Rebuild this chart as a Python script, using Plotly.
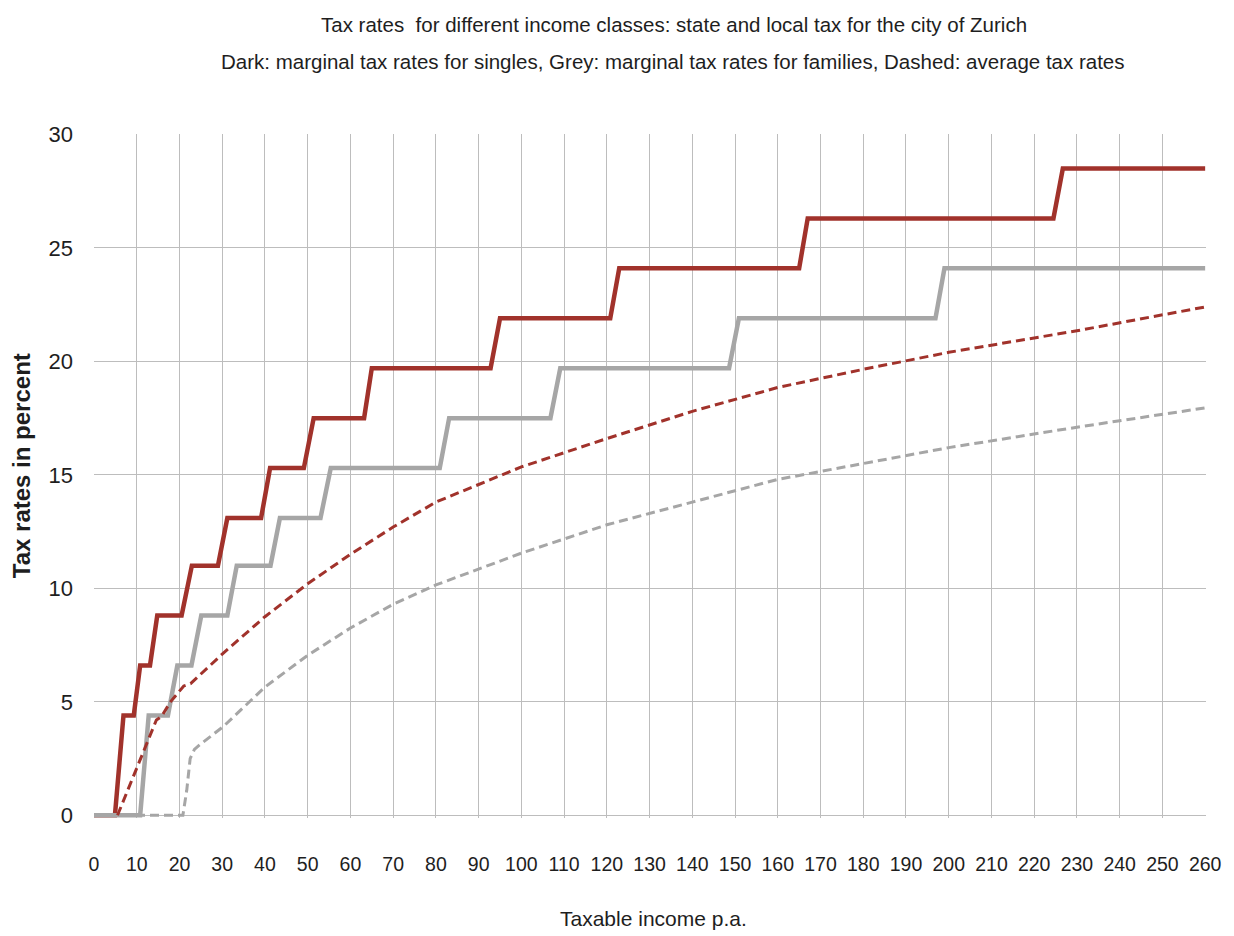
import plotly.graph_objects as go

# ---- data ----
single_marg_x = [0, 4.9, 6.9, 9.3, 10.8, 13.1, 14.8, 20.5, 22.9, 29.0, 31.2, 39.1, 41.2, 49.1, 51.4,
                 63.2, 65.0, 92.8, 95.0, 120.8, 122.9, 165.0, 167.0, 224.5, 226.7, 260]
single_marg_y = [0, 0, 4.4, 4.4, 6.6, 6.6, 8.8, 8.8, 11.0, 11.0, 13.1, 13.1, 15.3, 15.3, 17.5,
                 17.5, 19.7, 19.7, 21.9, 21.9, 24.1, 24.1, 26.3, 26.3, 28.5, 28.5]

family_marg_x = [0, 10.8, 12.8, 17.3, 19.5, 22.8, 25.1, 31.2, 33.4, 41.3, 43.5, 53.0, 55.4,
                 80.9, 83.1, 106.8, 109.1, 148.6, 150.9, 196.9, 199.0, 260]
family_marg_y = [0, 0, 4.4, 4.4, 6.6, 6.6, 8.8, 8.8, 11.0, 11.0, 13.1, 13.1, 15.3,
                 15.3, 17.5, 17.5, 19.7, 19.7, 21.9, 21.9, 24.1, 24.1]

single_avg_x = [5.5, 14.6, 15.8, 17.9, 21.0, 22.6, 30, 40, 50, 60, 70, 80, 100, 120, 140,
                160, 180, 200, 230, 260]
single_avg_y = [0, 4.2, 4.35, 5.0, 5.7, 5.8, 7.1, 8.75, 10.2, 11.5, 12.7, 13.8, 15.35, 16.6, 17.8,
                18.85, 19.65, 20.4, 21.35, 22.4]

family_avg_x = [0, 20.8, 21.7, 22.5, 23.5, 24.7, 30.2, 40, 50, 60, 70, 80, 100, 120, 140, 160,
                200, 230, 260]
family_avg_y = [0, 0, 1.1, 2.5, 2.9, 3.1, 3.9, 5.65, 7.05, 8.25, 9.3, 10.15, 11.55, 12.8, 13.8, 14.8,
                16.2, 17.1, 17.95]

x_ticks = list(range(0, 261, 10))
y_ticks = [0, 5, 10, 15, 20, 25, 30]

title_1 = "Tax rates  for different income classes: state and local tax for the city of Zurich"
title_2 = "Dark: marginal tax rates for singles, Grey: marginal tax rates for families, Dashed: average tax rates"
x_title = "Taxable income p.a."
y_title = "Tax rates in percent"

RED = "#A1322B"
GREY = "#A6A6A6"
REG = "Liberation Sans, Arial, sans-serif"
TXT = "#1E1E1E"

# page offset of the figure inside the HTML body (default 8px body margin)
OFF = 8
W, H = 1234 - OFF, 936 - OFF
L, T = 94 - OFF, 134 - OFF
R = W - (1209 - OFF)
B = H - (818 - OFF)

fig = go.Figure()
fig.add_trace(go.Scatter(x=single_marg_x, y=single_marg_y, mode="lines",
                         line=dict(color=RED, width=4.5), hoverinfo="skip"))
fig.add_trace(go.Scatter(x=family_marg_x, y=family_marg_y, mode="lines",
                         line=dict(color=GREY, width=4.5), hoverinfo="skip"))
fig.add_trace(go.Scatter(x=family_avg_x, y=family_avg_y, mode="lines",
                         line=dict(color=GREY, width=3, dash="9px,5px"), hoverinfo="skip"))
fig.add_trace(go.Scatter(x=single_avg_x, y=single_avg_y, mode="lines",
                         line=dict(color=RED, width=3, dash="9px,5px"), hoverinfo="skip"))

fig.update_layout(
    width=W, height=H,
    margin=dict(l=L, r=R, t=T, b=B, pad=0),
    paper_bgcolor="white", plot_bgcolor="white",
    showlegend=False,
    xaxis=dict(range=[0, 260.2], tickmode="array", tickvals=x_ticks,
               ticktext=[str(v) for v in x_ticks],
               showgrid=True, gridcolor="#BDBDBD", gridwidth=1,
               zeroline=False, showline=False, ticks="",
               tickfont=dict(family=REG, size=19.5, color=TXT),
               ticklabelstandoff=32),
    yaxis=dict(range=[-0.12, 30.02], tickmode="array", tickvals=y_ticks,
               showgrid=True, gridcolor="#BDBDBD", gridwidth=1,
               zeroline=False, showline=False, ticks="",
               tickfont=dict(family=REG, size=22, color=TXT),
               ticklabelstandoff=20),
)

pw, ph = W - L - R, H - T - B
def ann(text, px, py, size, bold=False, angle=0):
    # px, py: centre position in page pixels of the reference
    fx, fy = px - OFF, py - OFF
    return dict(text=("<b>%s</b>" % text) if bold else text,
                x=(fx - L) / pw, y=1 - (fy - T) / ph, xref="paper", yref="paper",
                xanchor="center", yanchor="middle", showarrow=False, textangle=angle,
                font=dict(family=REG, size=size, color=TXT))

fig.update_layout(annotations=[
    ann(title_1, 676, 24, 20.5),
    ann(title_2, 675, 61, 20.5),
    ann(x_title, 655, 918, 21),
    ann(y_title, 21, 466, 24, bold=True, angle=-90),
])

fig.write_html("out.html")
